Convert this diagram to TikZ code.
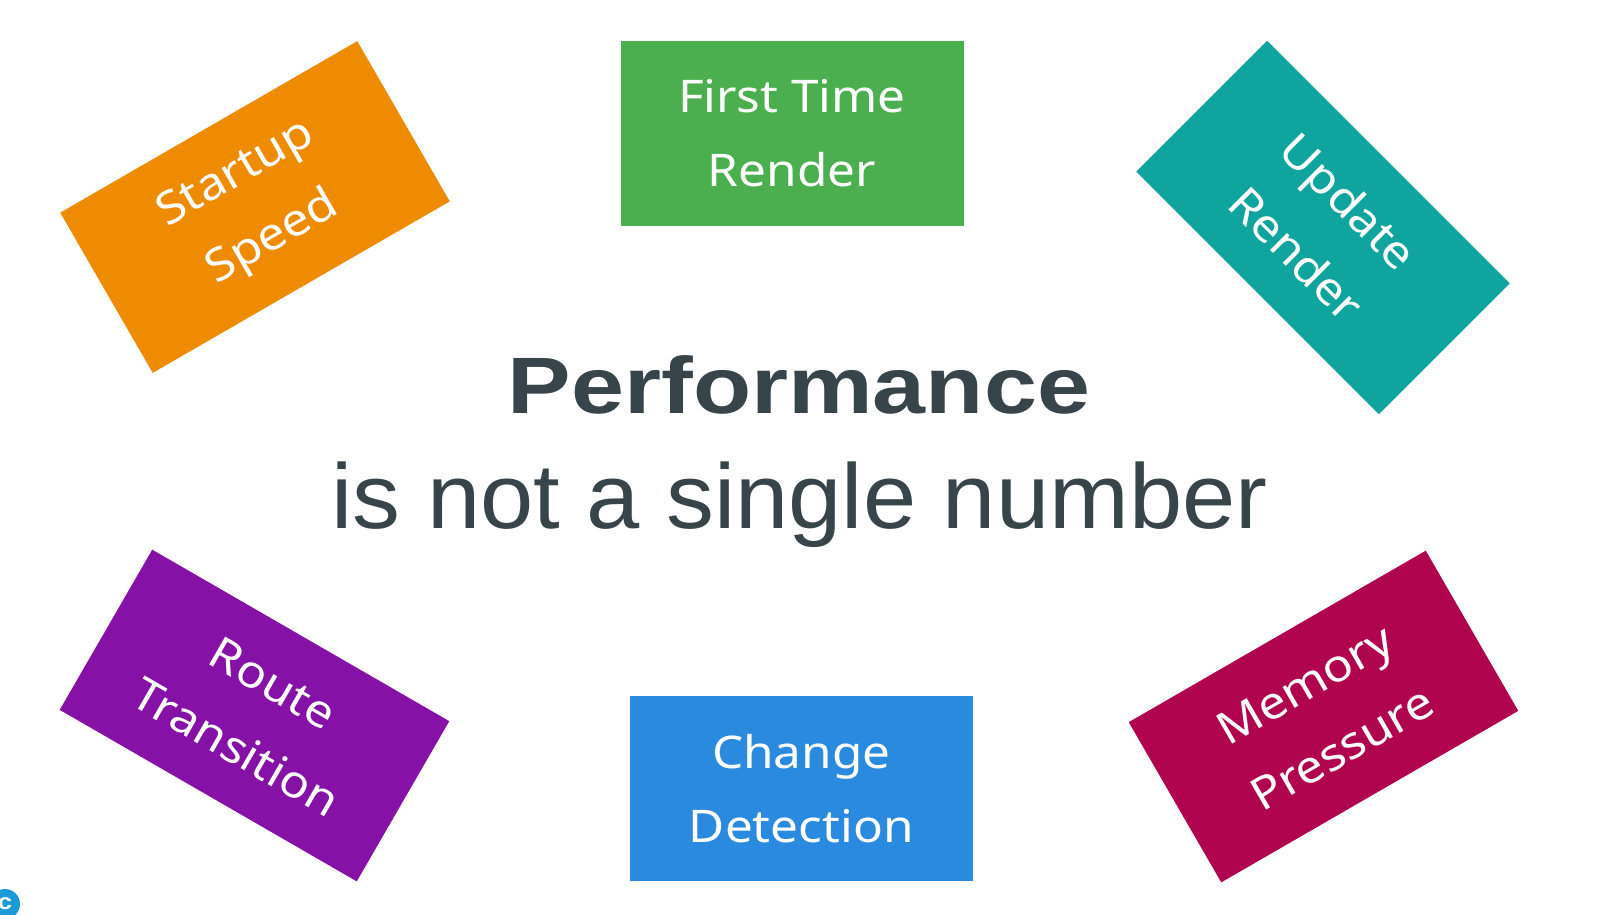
\documentclass[tikz,border=0pt]{standalone}
\usepackage{fontspec}
\newfontfamily\boxfont{Noto Sans}[FakeStretch=1.1]
\newfontfamily\titlefont{Liberation Sans}[FakeStretch=1.04]
\newfontfamily\titleboldfont{Liberation Sans}[FakeStretch=1.19,BoldFeatures={FakeStretch=1.19}]
\definecolor{cOrange}{HTML}{EF8B00}
\definecolor{cGreen}{HTML}{4BAE4F}
\definecolor{cTeal}{HTML}{0FA59E}
\definecolor{cPurple}{HTML}{8611A6}
\definecolor{cBlue}{HTML}{2A8ADF}
\definecolor{cMagenta}{HTML}{B1044F}
\definecolor{titlegray}{HTML}{37444A}
\definecolor{logoblue}{HTML}{1C9BD8}
\begin{document}
\begin{tikzpicture}[x=1pt,y=-1pt,
  box/.style={minimum width=343pt, minimum height=185pt, inner sep=0pt,
    text=white, align=center, font=\boxfont\fontsize{45}{74}\selectfont}]
\useasboundingbox (0,0) rectangle (1600,914);
\fill[white] (0,0) rectangle (1600,914);

\node[box, fill=cOrange, rotate=30] (startup) at (255,207) {Startup\\Speed};
\node[box, fill=cGreen] (first) at (792,133.5) {First Time\\Render};
\node[box, fill=cTeal, rotate=-45] (update) at (1323,227.5) {Update\\Render};
\node[box, fill=cPurple, rotate=-30] (route) at (254.5,715.5) {Route\\Transition};
\node[box, fill=cBlue] (change) at (801.3,788.8) {Change\\Detection};
\node[box, fill=cMagenta, rotate=30] (memory) at (1323.5,716.5) {Memory\\Pressure};

\node[anchor=base, inner sep=0pt, text=titlegray,
  font=\titleboldfont\bfseries\fontsize{80}{90}\selectfont] (perf) at (799,413) {Performance};
\node[anchor=base, inner sep=0pt, text=titlegray,
  font=\titlefont\fontsize{92}{100}\selectfont] (sub) at (799.5,528) {is not a single number};

\node[circle, fill=logoblue, minimum size=30pt, inner sep=0pt, text=white,
  font=\titleboldfont\bfseries\fontsize{22}{22}\selectfont] (logo) at (5,904) {c};
\end{tikzpicture}
\end{document}
